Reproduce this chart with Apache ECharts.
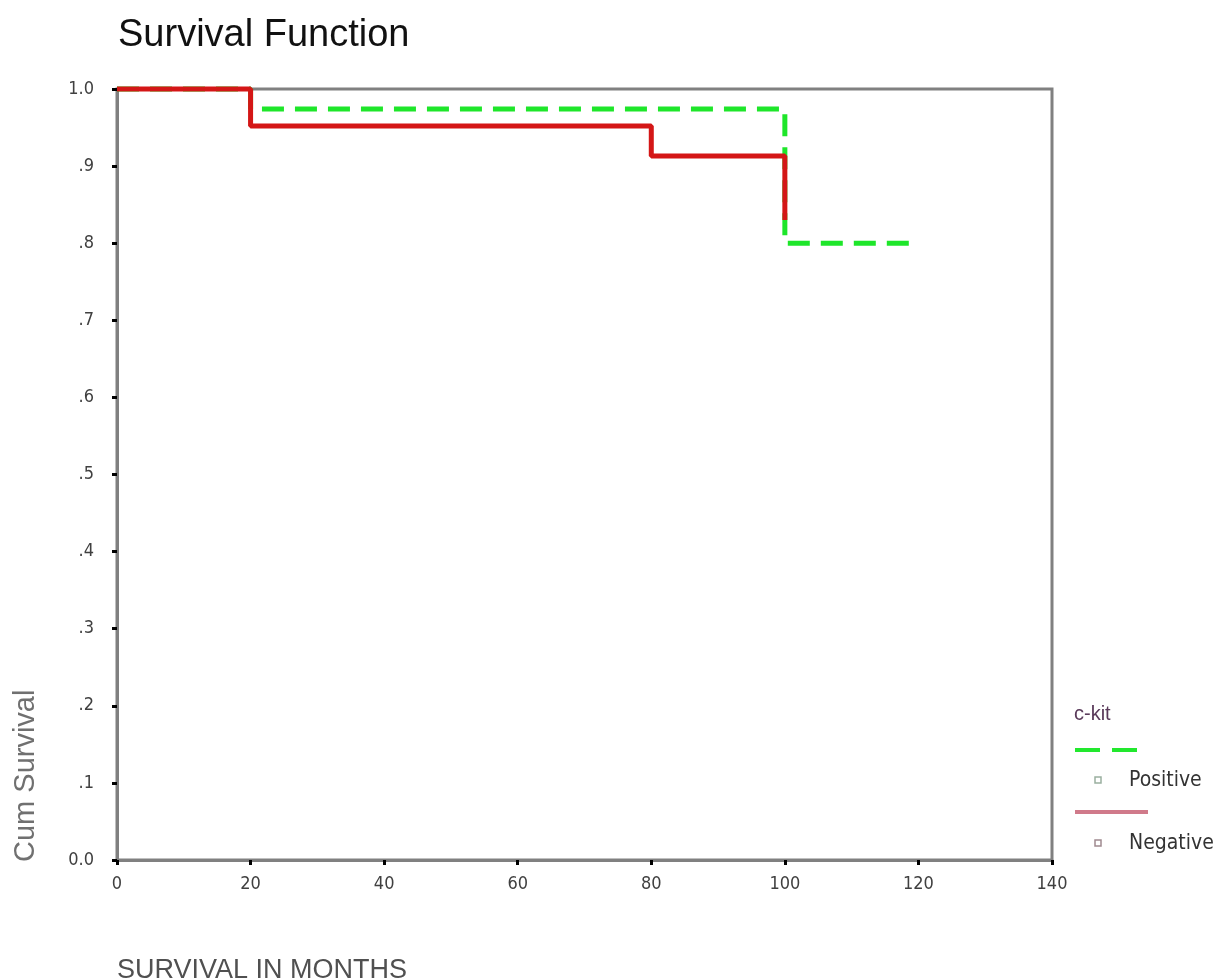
<!DOCTYPE html>
<html>
<head>
<meta charset="utf-8">
<script src="https://cdn.jsdelivr.net/npm/echarts@6/dist/echarts.min.js"></script>
<style>
html,body{margin:0;padding:0;background:#fff;}
#chart{width:1216px;height:979px;}
</style>
</head>
<body>
<div id="chart"></div>
<script>
// ---- data ----
const titleText = 'Survival Function';
const xAxisTitle = 'SURVIVAL IN MONTHS';
const yAxisTitle = 'Cum Survival';
const legendTitle = 'c-kit';
const xTicks = [0, 20, 40, 60, 80, 100, 120, 140];
const yTickLabels = ['0.0', '.1', '.2', '.3', '.4', '.5', '.6', '.7', '.8', '.9', '1.0'];

const positiveName = 'Positive';
const positiveTimes = [0, 20, 100, 120];
const positiveSurv  = [1.0, 0.974, 0.80, 0.80];

const negativeName = 'Negative';
const negativeTimes = [0, 20, 80, 100];
const negativeSurv  = [1.0, 0.952, 0.913, 0.83];

const zip = (a, b) => a.map((v, i) => [v, b[i]]);

const chart = echarts.init(document.getElementById('chart'), null, {renderer: 'canvas'});
const labelFont = "'Liberation Sans Narrow', 'DejaVu Sans Condensed', 'Liberation Sans', sans-serif";

const option = {
  backgroundColor: '#ffffff',
  animation: false,
  title: {
    text: titleText,
    left: 113, top: 12,
    textStyle: {fontFamily: "'Liberation Sans', Arial, sans-serif", fontSize: 38, fontWeight: 'normal', color: '#111'}
  },
  grid: {
    left: 117, right: 164, top: 89, bottom: 119,
    show: true, borderColor: '#808080', borderWidth: 3, backgroundColor: 'transparent'
  },
  xAxis: {
    type: 'value',
    min: xTicks[0], max: xTicks[xTicks.length - 1], interval: 20,
    axisLine: {show: true, lineStyle: {color: '#808080', width: 3}},
    axisTick: {show: true, length: 5, lineStyle: {color: '#000', width: 3}},
    splitLine: {show: false},
    axisLabel: {margin: 15, fontFamily: labelFont, fontSize: 18, color: '#404040'}
  },
  yAxis: {
    type: 'value',
    min: 0, max: 1, interval: 0.1,
    axisLine: {show: true, lineStyle: {color: '#808080', width: 3}},
    axisTick: {show: true, length: 5, lineStyle: {color: '#000', width: 3}},
    splitLine: {show: false},
    axisLabel: {
      margin: 23, fontFamily: labelFont, fontSize: 18, color: '#404040',
      formatter: v => yTickLabels[Math.round(v * 10)]
    }
  },
  series: [
    {
      name: positiveName, type: 'line', step: 'end',
      data: zip(positiveTimes, positiveSurv),
      showSymbol: false, symbol: 'none', clip: false, z: 2,
      lineStyle: {color: '#1ee62a', width: 5, type: [22, 11]}
    },
    {
      name: negativeName, type: 'line', step: 'end',
      data: zip(negativeTimes, negativeSurv),
      showSymbol: false, symbol: 'none', clip: false, z: 3,
      lineStyle: {color: '#d41616', width: 5}
    }
  ],
  graphic: [
    {type: 'text', x: 117, y: 984, style: {text: xAxisTitle, font: "27px 'Liberation Sans', Arial, sans-serif", fill: '#505050', textAlign: 'left', textVerticalAlign: 'bottom'}},
    {type: 'text', x: 26, y: 862, rotation: Math.PI / 2, style: {text: yAxisTitle, font: "29px 'Liberation Sans', Arial, sans-serif", fill: '#707070', textAlign: 'left', textVerticalAlign: 'middle'}},
    // legend
    {type: 'text', x: 1074, y: 714, style: {text: legendTitle, font: "20px 'Liberation Sans', Arial, sans-serif", fill: '#5a3a5a', textAlign: 'left', textVerticalAlign: 'middle'}},
    {type: 'line', shape: {x1: 1075, y1: 750, x2: 1148, y2: 750}, style: {stroke: '#22e82e', lineWidth: 4, lineDash: [25, 12]}},
    {type: 'rect', shape: {x: 1095, y: 777, width: 6, height: 6}, style: {fill: 'none', stroke: '#9ab0a0', lineWidth: 1.5}},
    {type: 'text', x: 1129, y: 781, style: {text: positiveName, font: "21px " + labelFont, fill: '#333', textAlign: 'left', textVerticalAlign: 'middle'}},
    {type: 'line', shape: {x1: 1075, y1: 812, x2: 1148, y2: 812}, style: {stroke: '#d07a8a', lineWidth: 4}},
    {type: 'rect', shape: {x: 1095, y: 840, width: 6, height: 6}, style: {fill: 'none', stroke: '#a08a90', lineWidth: 1.5}},
    {type: 'text', x: 1129, y: 844, style: {text: negativeName, font: "21px " + labelFont, fill: '#333', textAlign: 'left', textVerticalAlign: 'middle'}}
  ]
};
chart.setOption(option);
</script>
</body>
</html>
